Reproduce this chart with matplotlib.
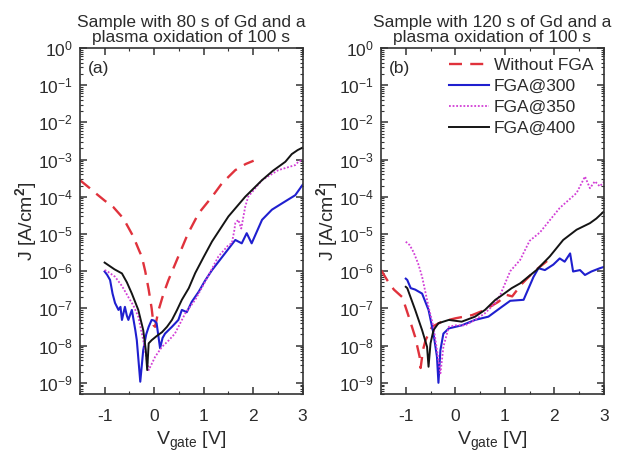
import numpy as np
import matplotlib
matplotlib.use('Agg')
import matplotlib.pyplot as plt
from matplotlib.ticker import LogLocator, MultipleLocator, NullFormatter

plt.rcParams['font.family'] = ['Liberation Sans', 'DejaVu Sans']
plt.rcParams['mathtext.fontset'] = 'custom'
plt.rcParams['mathtext.rm'] = 'Liberation Sans'
plt.rcParams['mathtext.it'] = 'Liberation Sans:italic'
plt.rcParams['mathtext.bf'] = 'Liberation Sans:bold'
plt.rcParams['axes.unicode_minus'] = False

TXT = '#2b2b2b'

# ---- panel (a): 80 s Gd ----
a_v_nofga = [-1.5, -1.3, -1.15, -1.0, -0.82, -0.62, -0.42, -0.3, -0.25, -0.18, -0.11, -0.05, -0.01,
             0.02, 0.09, 0.19, 0.29, 0.49, 0.68, 0.9, 1.17, 1.37, 1.64, 1.85, 2.01]
a_j_nofga = [2.8e-4, 1.7e-4, 1.15e-4, 7.9e-5, 5.2e-5, 2.6e-5, 8.5e-6, 3.5e-6, 2.5e-6, 1e-6, 3.2e-7, 1e-7, 3.5e-8,
             3.2e-8, 9e-8, 2.5e-7, 5.8e-7, 2.5e-6, 1e-5, 3.6e-5, 1e-4, 2.3e-4, 5.2e-4, 7.6e-4, 9.3e-4]

a_v_300 = [-1.0, -0.95, -0.89, -0.84, -0.79, -0.72, -0.68, -0.65, -0.59, -0.55, -0.52, -0.45, -0.38, -0.35,
           -0.28, -0.22, -0.16, -0.11, -0.05, 0.0, 0.05, 0.12, 0.17, 0.22, 0.36, 0.49, 0.56, 0.66, 0.76,
           0.9, 1.03, 1.17, 1.43, 1.64, 1.77, 1.87, 1.97, 2.18, 2.38, 2.58, 2.85, 3.0]
a_j_300 = [9.8e-7, 8e-7, 5.8e-7, 2.5e-7, 1.4e-7, 9.1e-8, 1.1e-7, 4.9e-8, 1.1e-7, 6.3e-8, 4.9e-8, 9.1e-8, 2.6e-8, 1.4e-8,
           1.07e-9, 7.6e-9, 2e-8, 3.2e-8, 4.9e-8, 4.7e-8, 4e-8, 8.5e-9, 1.6e-8, 2.1e-8, 3.2e-8, 4.9e-8, 9.1e-8, 7.9e-8, 1.5e-7,
           2.8e-7, 5.6e-7, 1.07e-6, 3e-6, 6.9e-6, 5.6e-6, 1.05e-5, 5.6e-6, 2.4e-5, 4.5e-5, 6.6e-5, 1.1e-4, 2.1e-4]

a_v_350 = [-1.0, -0.95, -0.79, -0.65, -0.52, -0.42, -0.32, -0.22, -0.16, -0.11, -0.05, 0.02, 0.16, 0.3, 0.42,
           0.63, 0.83, 1.03, 1.3, 1.5, 1.57, 1.62, 1.64, 1.7, 1.76, 1.84, 1.9, 2.18, 2.51, 2.85, 2.92, 3.0]
a_j_350 = [1.07e-6, 1e-6, 7.1e-7, 4e-7, 2e-7, 1.2e-7, 6e-8, 1.4e-8, 5e-9, 2.2e-9, 3.2e-9, 5e-9, 9.3e-9, 1.4e-8, 2.1e-8,
           7.4e-8, 1.7e-7, 5.2e-7, 2.5e-6, 5e-6, 5.6e-6, 1.26e-5, 1.95e-5, 2.4e-5, 1.4e-5, 5.4e-5, 1e-4, 2.8e-4, 5.2e-4,
           7.1e-4, 8.9e-4, 9.8e-4]

a_v_400 = [-1.0, -0.8, -0.65, -0.55, -0.45, -0.32, -0.22, -0.17, -0.14, -0.11, -0.05, 0.05, 0.16, 0.26, 0.36,
           0.46, 0.56, 0.7, 0.83, 1.0, 1.17, 1.5, 1.84, 2.18, 2.4, 2.65, 2.78, 2.9, 3.0]
a_j_400 = [1.7e-6, 1.12e-6, 8.7e-7, 5e-7, 2.5e-7, 9.1e-8, 2.6e-8, 7.9e-9, 2.2e-9, 1.15e-8, 1.4e-8, 1.8e-8, 2.3e-8,
           3.2e-8, 4.9e-8, 8.9e-8, 1.7e-7, 3.5e-7, 8.9e-7, 2.4e-6, 6.3e-6, 2.95e-5, 1e-4, 2.8e-4, 5e-4, 8.7e-4,
           1.4e-3, 1.8e-3, 2.1e-3]

# ---- panel (b): 120 s Gd ----
b_v_nofga = [-1.5, -1.37, -1.24, -1.07, -0.94, -0.81, -0.72, -0.7, -0.65, -0.6, -0.47, -0.27, 0.0, 0.34, 0.6,
             0.87, 1.04, 1.15, 1.34, 1.6, 1.9]
b_j_nofga = [1.07e-6, 5.6e-7, 3.2e-7, 2e-7, 6e-8, 1.7e-8, 5e-9, 2.5e-9, 7.9e-9, 1.4e-8, 3.2e-8, 4.4e-8, 5.4e-8,
             6.6e-8, 9.1e-8, 1.5e-7, 2.3e-7, 2.1e-7, 4.5e-7, 1e-6, 2.1e-6]

b_v_300 = [-1.0, -0.97, -0.9, -0.81, -0.67, -0.54, -0.44, -0.37, -0.34, -0.3, -0.24, -0.13, 0.13, 0.4, 0.67,
           0.94, 1.11, 1.38, 1.58, 1.68, 1.81, 1.98, 2.11, 2.21, 2.32, 2.38, 2.52, 2.62, 2.75, 2.92, 3.0]
b_j_300 = [6.3e-7, 5.8e-7, 3.5e-7, 3.2e-7, 2.5e-7, 9.1e-8, 2.1e-8, 5e-9, 1e-9, 7.6e-9, 2.1e-8, 2.9e-8, 3.5e-8,
           4.9e-8, 6e-8, 1.1e-7, 1.6e-7, 1.7e-7, 7e-7, 1.2e-6, 1.07e-6, 1.5e-6, 2.2e-6, 1.8e-6, 3e-6, 9.8e-7,
           1.07e-6, 7.9e-7, 9.8e-7, 1.2e-6, 1.3e-6]

b_v_350 = [-1.0, -0.92, -0.84, -0.75, -0.67, -0.54, -0.44, -0.37, -0.3, -0.27, -0.24, -0.13, 0.0, 0.2, 0.4,
           0.6, 0.81, 0.92, 1.11, 1.31, 1.5, 1.71, 2.11, 2.45, 2.62, 2.72, 2.82, 2.92, 3.0]
b_j_350 = [6.2e-6, 5e-6, 3.2e-6, 1.6e-6, 7.1e-7, 1.1e-7, 3.2e-8, 7.6e-9, 1.8e-9, 4e-9, 9.3e-9, 3.2e-8, 3.5e-8,
           3.5e-8, 4.9e-8, 7.4e-8, 1.4e-7, 2.5e-7, 1e-6, 2e-6, 6.5e-6, 1.1e-5, 5e-5, 1.26e-4, 3.5e-4, 1.7e-4,
           2.6e-4, 1.9e-4, 2.5e-4]

b_v_400 = [-1.0, -0.97, -0.81, -0.67, -0.57, -0.54, -0.5, -0.44, -0.34, -0.13, 0.13, 0.4, 0.6, 0.81, 0.91,
           1.14, 1.31, 1.64, 1.91, 2.18, 2.45, 2.72, 2.85, 3.0]
b_j_400 = [3.8e-7, 3.5e-7, 9.1e-8, 2.6e-8, 9.3e-9, 2.7e-9, 1.15e-8, 2.6e-8, 4e-8, 4.9e-8, 4.4e-8, 6e-8, 9.1e-8,
           1.7e-7, 2.1e-7, 3.5e-7, 4.7e-7, 1.07e-6, 2.5e-6, 6.9e-6, 1.3e-5, 1.95e-5, 2.6e-5, 4e-5]

titles = ['Sample with 80 s of Gd and a\nplasma oxidation of 100 s',
          'Sample with 120 s of Gd and a\nplasma oxidation of 100 s']
panel_tags = ['(a)', '(b)']
y_decades = [1e-9, 1e-8, 1e-7, 1e-6, 1e-5, 1e-4, 1e-3, 1e-2, 1e-1, 1e0]
x_major = [-1, 0, 1, 2, 3]

RED, BLUE, MAG, BLK = '#e0323c', '#1f1fcf', '#d23fd6', '#141414'

fig = plt.figure(figsize=(6.24, 4.59), dpi=100)
ax1 = fig.add_axes([0.128, 0.1416, 0.357, 0.754])
ax2 = fig.add_axes([0.6106, 0.1416, 0.357, 0.754])

data = [
    (ax1, a_v_nofga, a_j_nofga, a_v_300, a_j_300, a_v_350, a_j_350, a_v_400, a_j_400),
    (ax2, b_v_nofga, b_j_nofga, b_v_300, b_j_300, b_v_350, b_j_350, b_v_400, b_j_400),
]

for i, (ax, vn, jn, v3, j3, v35, j35, v4, j4) in enumerate(data):
    ax.plot(vn, jn, color=RED, lw=1.7, dashes=(5.5, 3.5), label='Without FGA')
    ax.plot(v3, j3, color=BLUE, lw=1.5, label='FGA@300')
    ax.plot(v35, j35, color=MAG, lw=1.3, ls=(0, (1, 1)), label='FGA@350')
    ax.plot(v4, j4, color=BLK, lw=1.4, label='FGA@400')

    ax.set_yscale('log')
    ax.set_xlim(-1.5, 3)
    ax.set_ylim(5e-10, 1)
    ax.set_xticks(x_major)
    ax.xaxis.set_minor_locator(MultipleLocator(0.5))
    ax.set_yticks(y_decades)
    ax.yaxis.set_minor_locator(LogLocator(base=10, subs=np.arange(2, 10), numticks=20))
    ax.yaxis.set_minor_formatter(NullFormatter())
    ax.tick_params(which='both', direction='in', top=True, right=True, colors='#333333',
                   labelcolor=TXT, labelsize=12.5)
    ax.tick_params(which='major', length=5, width=1.1)
    ax.tick_params(which='minor', length=2.5, width=0.8)
    ax.tick_params(axis='x', which='both', pad=11)
    ax.tick_params(axis='y', which='both', pad=5)
    for s in ax.spines.values():
        s.set_linewidth(1.2)
        s.set_color('#333333')

    ax.set_title(titles[i], fontsize=12.5, color=TXT, pad=4, linespacing=1.05)
    ax.set_xlabel(r'V$_\mathrm{gate}$ [V]', fontsize=14, color=TXT, labelpad=4)
    ax.set_ylabel(r'J [A/cm$^\mathbf{2}$]', fontsize=14, color=TXT, labelpad=-0.5)
    ax.text(0.035, 0.94, panel_tags[i], transform=ax.transAxes, fontsize=12.5,
            color=TXT, va='center', ha='left')

leg = ax2.legend(loc='upper right', frameon=False, fontsize=12.5, handlelength=2.3,
                 handletextpad=0.3, labelspacing=0.32, borderaxespad=0.2,
                 bbox_to_anchor=(1.0, 1.0))
for t in leg.get_texts():
    t.set_color(TXT)

fig.savefig('out.png', dpi=100)
